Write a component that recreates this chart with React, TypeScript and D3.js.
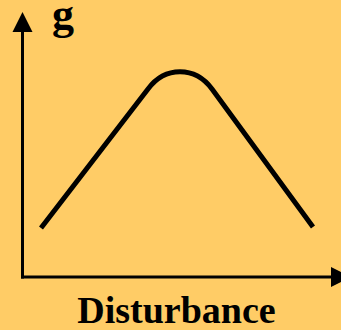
import React from "react";
import * as d3 from "d3";

const W = 341;
const H = 330;

// Curve key points (disturbance, g): start, left knee, control, control, right knee, end
const curveX = [19, 126, 143, 173, 190, 291];
const curveY = [49, 188, 211, 211, 188, 50];

const xLabel = "Disturbance";
const yLabel = "g";

export default function App() {
  const x = d3.scaleLinear().domain([0, 320]).range([22, 342]);
  const y = d3.scaleLinear().domain([0, 265]).range([277, 12]);

  const p = d3.path();
  p.moveTo(x(curveX[0]), y(curveY[0]));
  p.lineTo(x(curveX[1]), y(curveY[1]));
  p.bezierCurveTo(
    x(curveX[2]), y(curveY[2]),
    x(curveX[3]), y(curveY[3]),
    x(curveX[4]), y(curveY[4])
  );
  p.lineTo(x(curveX[5]), y(curveY[5]));

  const x0 = x(0) + 0.5;
  const y0 = y(0);
  const yTop = y(265);
  const xEnd = x(329);

  return (
    <svg
      width={W}
      height={H}
      style={{ position: "fixed", left: 0, top: 0, display: "block" }}
    >
      <rect x={0} y={0} width={W} height={H} fill="#FFCC66" />
      {/* y axis */}
      <line x1={x0} y1={y0 + 1.5} x2={x0} y2={yTop + 18} stroke="#000" strokeWidth={3} />
      <path d={`M${x0},${yTop} L${x0 - 10},${yTop + 20} L${x0 + 10},${yTop + 20} Z`} fill="#000" />
      {/* x axis */}
      <line x1={x0 - 1.5} y1={y0} x2={xEnd - 18} y2={y0} stroke="#000" strokeWidth={3} />
      <path d={`M${xEnd},${y0} L${xEnd - 20},${y0 - 10} L${xEnd - 20},${y0 + 10} Z`} fill="#000" />
      {/* curve */}
      <path d={p.toString()} fill="none" stroke="#000" strokeWidth={5} strokeLinecap="butt" strokeLinejoin="round" />
      <text
        x={52}
        y={29}
        fontFamily="'Liberation Serif', 'Times New Roman', serif"
        fontWeight="bold"
        fontSize={44}
        fill="#000"
      >
        {yLabel}
      </text>
      <text
        x={176.5}
        y={323}
        textAnchor="middle"
        fontFamily="'Liberation Serif', 'Times New Roman', serif"
        fontWeight="bold"
        fontSize={38}
        fill="#000"
      >
        {xLabel}
      </text>
    </svg>
  );
}
